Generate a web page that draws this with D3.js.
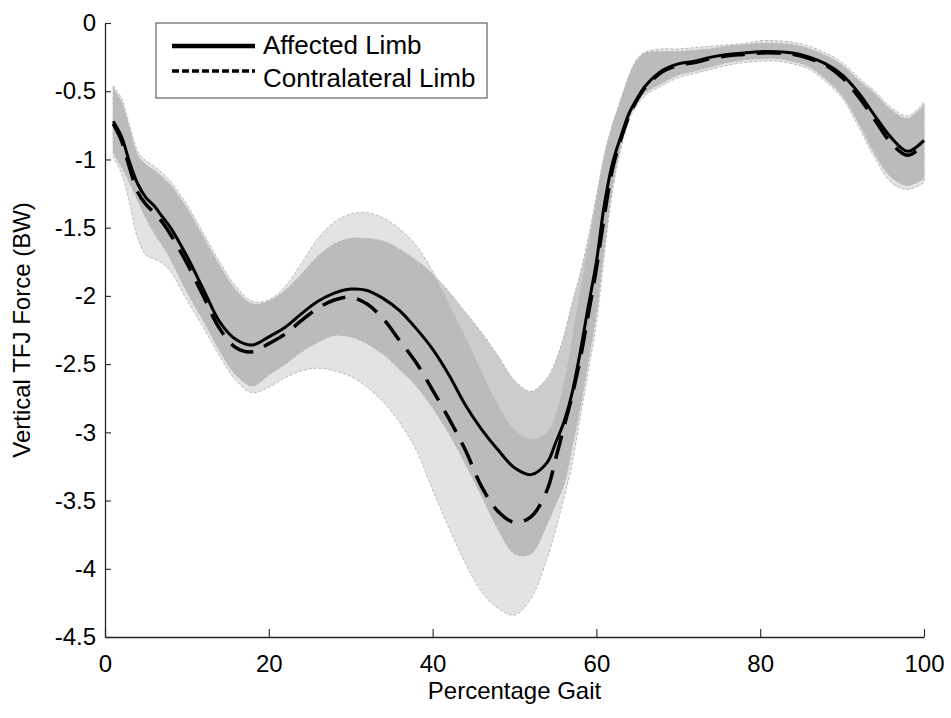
<!DOCTYPE html>
<html>
<head>
<meta charset="utf-8">
<script src="https://cdn.jsdelivr.net/npm/d3@7"></script>
<style>
  body { margin: 0; background: #fff; }
  text { font-family: "Liberation Sans", Arial, sans-serif; }
</style>
</head>
<body>
<div id="chart"></div>
<script>
// percentage of the gait cycle
var gait = [1, 2, 3, 4, 5, 6, 7, 8, 10, 12, 14, 16, 18, 20, 22, 24, 26, 28, 30, 32, 34, 36, 38, 40,
  42, 44, 46, 48, 50, 52, 54, 55, 56, 57, 58, 59, 60, 61, 62, 63, 64, 65, 66, 68, 70, 72, 74, 76,
  78, 80, 82, 84, 86, 88, 90, 92, 94, 96, 98, 100];

// affected limb: mean and band (BW)
var affectedMean = [-0.72, -0.83, -1.02, -1.18, -1.28, -1.34, -1.42, -1.50, -1.71, -1.95, -2.19, -2.32,
  -2.36, -2.30, -2.23, -2.13, -2.04, -1.98, -1.95, -1.96, -2.02, -2.11, -2.24, -2.39,
  -2.58, -2.80, -2.98, -3.13, -3.26, -3.31, -3.22, -3.08, -2.93, -2.72, -2.42, -2.08, -1.75, -1.32,
  -1.02, -0.83, -0.66, -0.55, -0.46, -0.35, -0.30, -0.28, -0.25, -0.23, -0.22, -0.21, -0.21, -0.22,
  -0.25, -0.30, -0.38, -0.51, -0.68, -0.84, -0.94, -0.86];
var affectedUpper = [-0.48, -0.58, -0.78, -0.97, -1.04, -1.08, -1.13, -1.19, -1.36, -1.57, -1.78, -1.96,
  -2.06, -2.04, -1.96, -1.84, -1.71, -1.62, -1.58, -1.58, -1.60, -1.66, -1.74, -1.84,
  -1.97, -2.12, -2.27, -2.44, -2.62, -2.70, -2.60, -2.48, -2.30, -2.06, -1.84, -1.58, -1.27, -0.96,
  -0.74, -0.56, -0.39, -0.27, -0.22, -0.21, -0.21, -0.20, -0.19, -0.17, -0.16, -0.15, -0.15, -0.16,
  -0.19, -0.24, -0.31, -0.42, -0.52, -0.64, -0.70, -0.60];
var affectedLower = [-0.95, -1.05, -1.17, -1.30, -1.43, -1.54, -1.63, -1.73, -1.97, -2.18, -2.40, -2.58,
  -2.66, -2.58, -2.50, -2.41, -2.34, -2.29, -2.30, -2.35, -2.43, -2.54, -2.66, -2.82,
  -3.01, -3.23, -3.47, -3.71, -3.89, -3.89, -3.67, -3.53, -3.39, -3.12, -2.82, -2.48, -2.12, -1.62,
  -1.18, -0.89, -0.69, -0.58, -0.51, -0.44, -0.38, -0.35, -0.32, -0.29, -0.27, -0.26, -0.26, -0.28,
  -0.32, -0.41, -0.53, -0.73, -0.96, -1.13, -1.19, -1.14];

// contralateral limb: mean and band (BW)
var contraMean = [-0.74, -0.86, -1.06, -1.24, -1.33, -1.39, -1.46, -1.55, -1.76, -2.00, -2.24, -2.38,
  -2.41, -2.35, -2.28, -2.18, -2.09, -2.03, -2.01, -2.06, -2.17, -2.33, -2.49, -2.69,
  -2.90, -3.13, -3.40, -3.58, -3.66, -3.62, -3.42, -3.20, -2.97, -2.74, -2.47, -2.14, -1.80, -1.40,
  -1.06, -0.85, -0.68, -0.56, -0.47, -0.36, -0.31, -0.29, -0.26, -0.24, -0.23, -0.22, -0.22, -0.23,
  -0.26, -0.31, -0.40, -0.54, -0.71, -0.88, -0.97, -0.89];
var contraUpper = [-0.46, -0.55, -0.75, -0.94, -1.01, -1.05, -1.10, -1.16, -1.33, -1.54, -1.75, -1.93,
  -2.04, -2.03, -1.93, -1.76, -1.58, -1.46, -1.40, -1.39, -1.43, -1.51, -1.63, -1.82,
  -2.06, -2.30, -2.56, -2.80, -2.98, -3.05, -3.00, -2.88, -2.65, -2.32, -1.96, -1.64, -1.30, -0.97,
  -0.74, -0.56, -0.38, -0.26, -0.21, -0.19, -0.19, -0.18, -0.17, -0.16, -0.15, -0.13, -0.13, -0.14,
  -0.17, -0.22, -0.29, -0.40, -0.50, -0.62, -0.68, -0.58];
var contraLower = [-0.98, -1.10, -1.32, -1.58, -1.70, -1.73, -1.76, -1.82, -2.03, -2.23, -2.44, -2.62,
  -2.71, -2.67, -2.60, -2.55, -2.53, -2.55, -2.59, -2.67, -2.78, -2.93, -3.13, -3.42,
  -3.70, -3.96, -4.17, -4.29, -4.34, -4.22, -3.92, -3.72, -3.49, -3.24, -2.90, -2.56, -2.20, -1.68,
  -1.22, -0.92, -0.71, -0.60, -0.53, -0.46, -0.40, -0.37, -0.34, -0.31, -0.29, -0.28, -0.28, -0.30,
  -0.34, -0.43, -0.55, -0.76, -0.99, -1.17, -1.22, -1.17];

var xTicks = [0, 20, 40, 60, 80, 100];
var yTicks = [0, -0.5, -1, -1.5, -2, -2.5, -3, -3.5, -4, -4.5];
var legendLabels = ["Affected Limb", "Contralateral Limb"];

var svgWidth = 951;
var svgHeight = 718;

var margin = {
  top: 23,
  right: 27,
  bottom: 81,
  left: 105
};

var width = svgWidth - margin.left - margin.right;
var height = svgHeight - margin.top - margin.bottom;

var svg = d3.select("#chart")
  .append("svg")
  .attr("width", svgWidth)
  .attr("height", svgHeight);

var chartGroup = svg.append("g")
  .attr("transform", `translate(${margin.left}, ${margin.top})`);

var xScale = d3.scaleLinear().domain([0, 100]).range([0, width]);
var yScale = d3.scaleLinear().domain([-4.5, 0]).range([height, 0]);

// one row per gait point
var rows = gait.map(function(g, i) {
  return {
    x: g,
    am: affectedMean[i], au: affectedUpper[i], al: affectedLower[i],
    cm: contraMean[i], cu: contraUpper[i], cl: contraLower[i]
  };
});

var curve = d3.curveCatmullRom.alpha(0.5);

function band(lo, hi) {
  return d3.area()
    .x(d => xScale(d.x))
    .y0(d => yScale(lo(d)))
    .y1(d => yScale(hi(d)))
    .curve(curve);
}

// contralateral band (lightest)
chartGroup.append("path")
  .datum(rows)
  .attr("d", band(d => d.cl, d => d.cu))
  .attr("fill", "#e3e3e3")
  .attr("stroke", "#a0a0a0")
  .attr("stroke-width", 0.7)
  .attr("stroke-dasharray", "3,2");

// affected band
chartGroup.append("path")
  .datum(rows)
  .attr("d", band(d => d.al, d => d.au))
  .attr("fill", "#cccccc")
  .attr("stroke", "#a0a0a0")
  .attr("stroke-width", 0.7)
  .attr("stroke-dasharray", "3,2");

// where the two bands overlap
chartGroup.append("path")
  .datum(rows)
  .attr("d", band(d => Math.max(d.al, d.cl), d => Math.max(Math.min(d.au, d.cu), Math.max(d.al, d.cl))))
  .attr("fill", "#bbbbbb");

var line = function(key) {
  return d3.line()
    .x(d => xScale(d.x))
    .y(d => yScale(d[key]))
    .curve(curve);
};

chartGroup.append("path")
  .datum(rows)
  .attr("d", line("cm"))
  .attr("fill", "none")
  .attr("stroke", "#000")
  .attr("stroke-width", 3.5)
  .attr("stroke-dasharray", "24,12");

chartGroup.append("path")
  .datum(rows)
  .attr("d", line("am"))
  .attr("fill", "none")
  .attr("stroke", "#000")
  .attr("stroke-width", 3);

// axes, ticks pointing inward
var bottomAxis = d3.axisBottom(xScale)
  .tickValues(xTicks)
  .tickSizeInner(-8)
  .tickSizeOuter(0)
  .tickPadding(18)
  .tickFormat(d => String(d));

var leftAxis = d3.axisLeft(yScale)
  .tickValues(yTicks)
  .tickSizeInner(-6)
  .tickSizeOuter(0)
  .tickPadding(9)
  .tickFormat(d => String(d));

var xAxis = chartGroup.append("g")
  .attr("transform", `translate(0, ${height})`)
  .call(bottomAxis);

var yAxis = chartGroup.append("g")
  .call(leftAxis);

[xAxis, yAxis].forEach(function(ax) {
  ax.select(".domain").attr("stroke", "#262626").attr("stroke-width", 1.3);
  ax.selectAll(".tick line").attr("stroke", "#262626").attr("stroke-width", 1.1);
  ax.selectAll("text")
    .attr("fill", "#000")
    .style("font-size", "24px")
    .style("font-family", "'Liberation Sans', Arial, sans-serif");
});

// axis titles
chartGroup.append("text")
  .attr("x", width / 2)
  .attr("y", height + 62)
  .attr("text-anchor", "middle")
  .style("font-size", "24px")
  .text("Percentage Gait");

svg.append("text")
  .attr("transform", `translate(30, ${margin.top + height / 2}) rotate(-90)`)
  .attr("text-anchor", "middle")
  .style("font-size", "24px")
  .text("Vertical TFJ Force (BW)");

// legend
var legend = svg.append("g").attr("transform", "translate(156, 23)");

legend.append("rect")
  .attr("width", 331)
  .attr("height", 75)
  .attr("fill", "#fff")
  .attr("stroke", "#444")
  .attr("stroke-width", 1);

legend.selectAll("line")
  .data(legendLabels)
  .enter()
  .append("line")
  .attr("x1", 16)
  .attr("x2", 99)
  .attr("y1", (d, i) => 23 + i * 25)
  .attr("y2", (d, i) => 23 + i * 25)
  .attr("stroke", "#000")
  .attr("stroke-width", (d, i) => i === 0 ? 4.5 : 3.5)
  .attr("stroke-dasharray", (d, i) => i === 0 ? null : "7,3");

legend.selectAll("text")
  .data(legendLabels)
  .enter()
  .append("text")
  .attr("x", 107)
  .attr("y", (d, i) => 31 + i * 33)
  .style("font-size", "26px")
  .text(d => d);
</script>
</body>
</html>
